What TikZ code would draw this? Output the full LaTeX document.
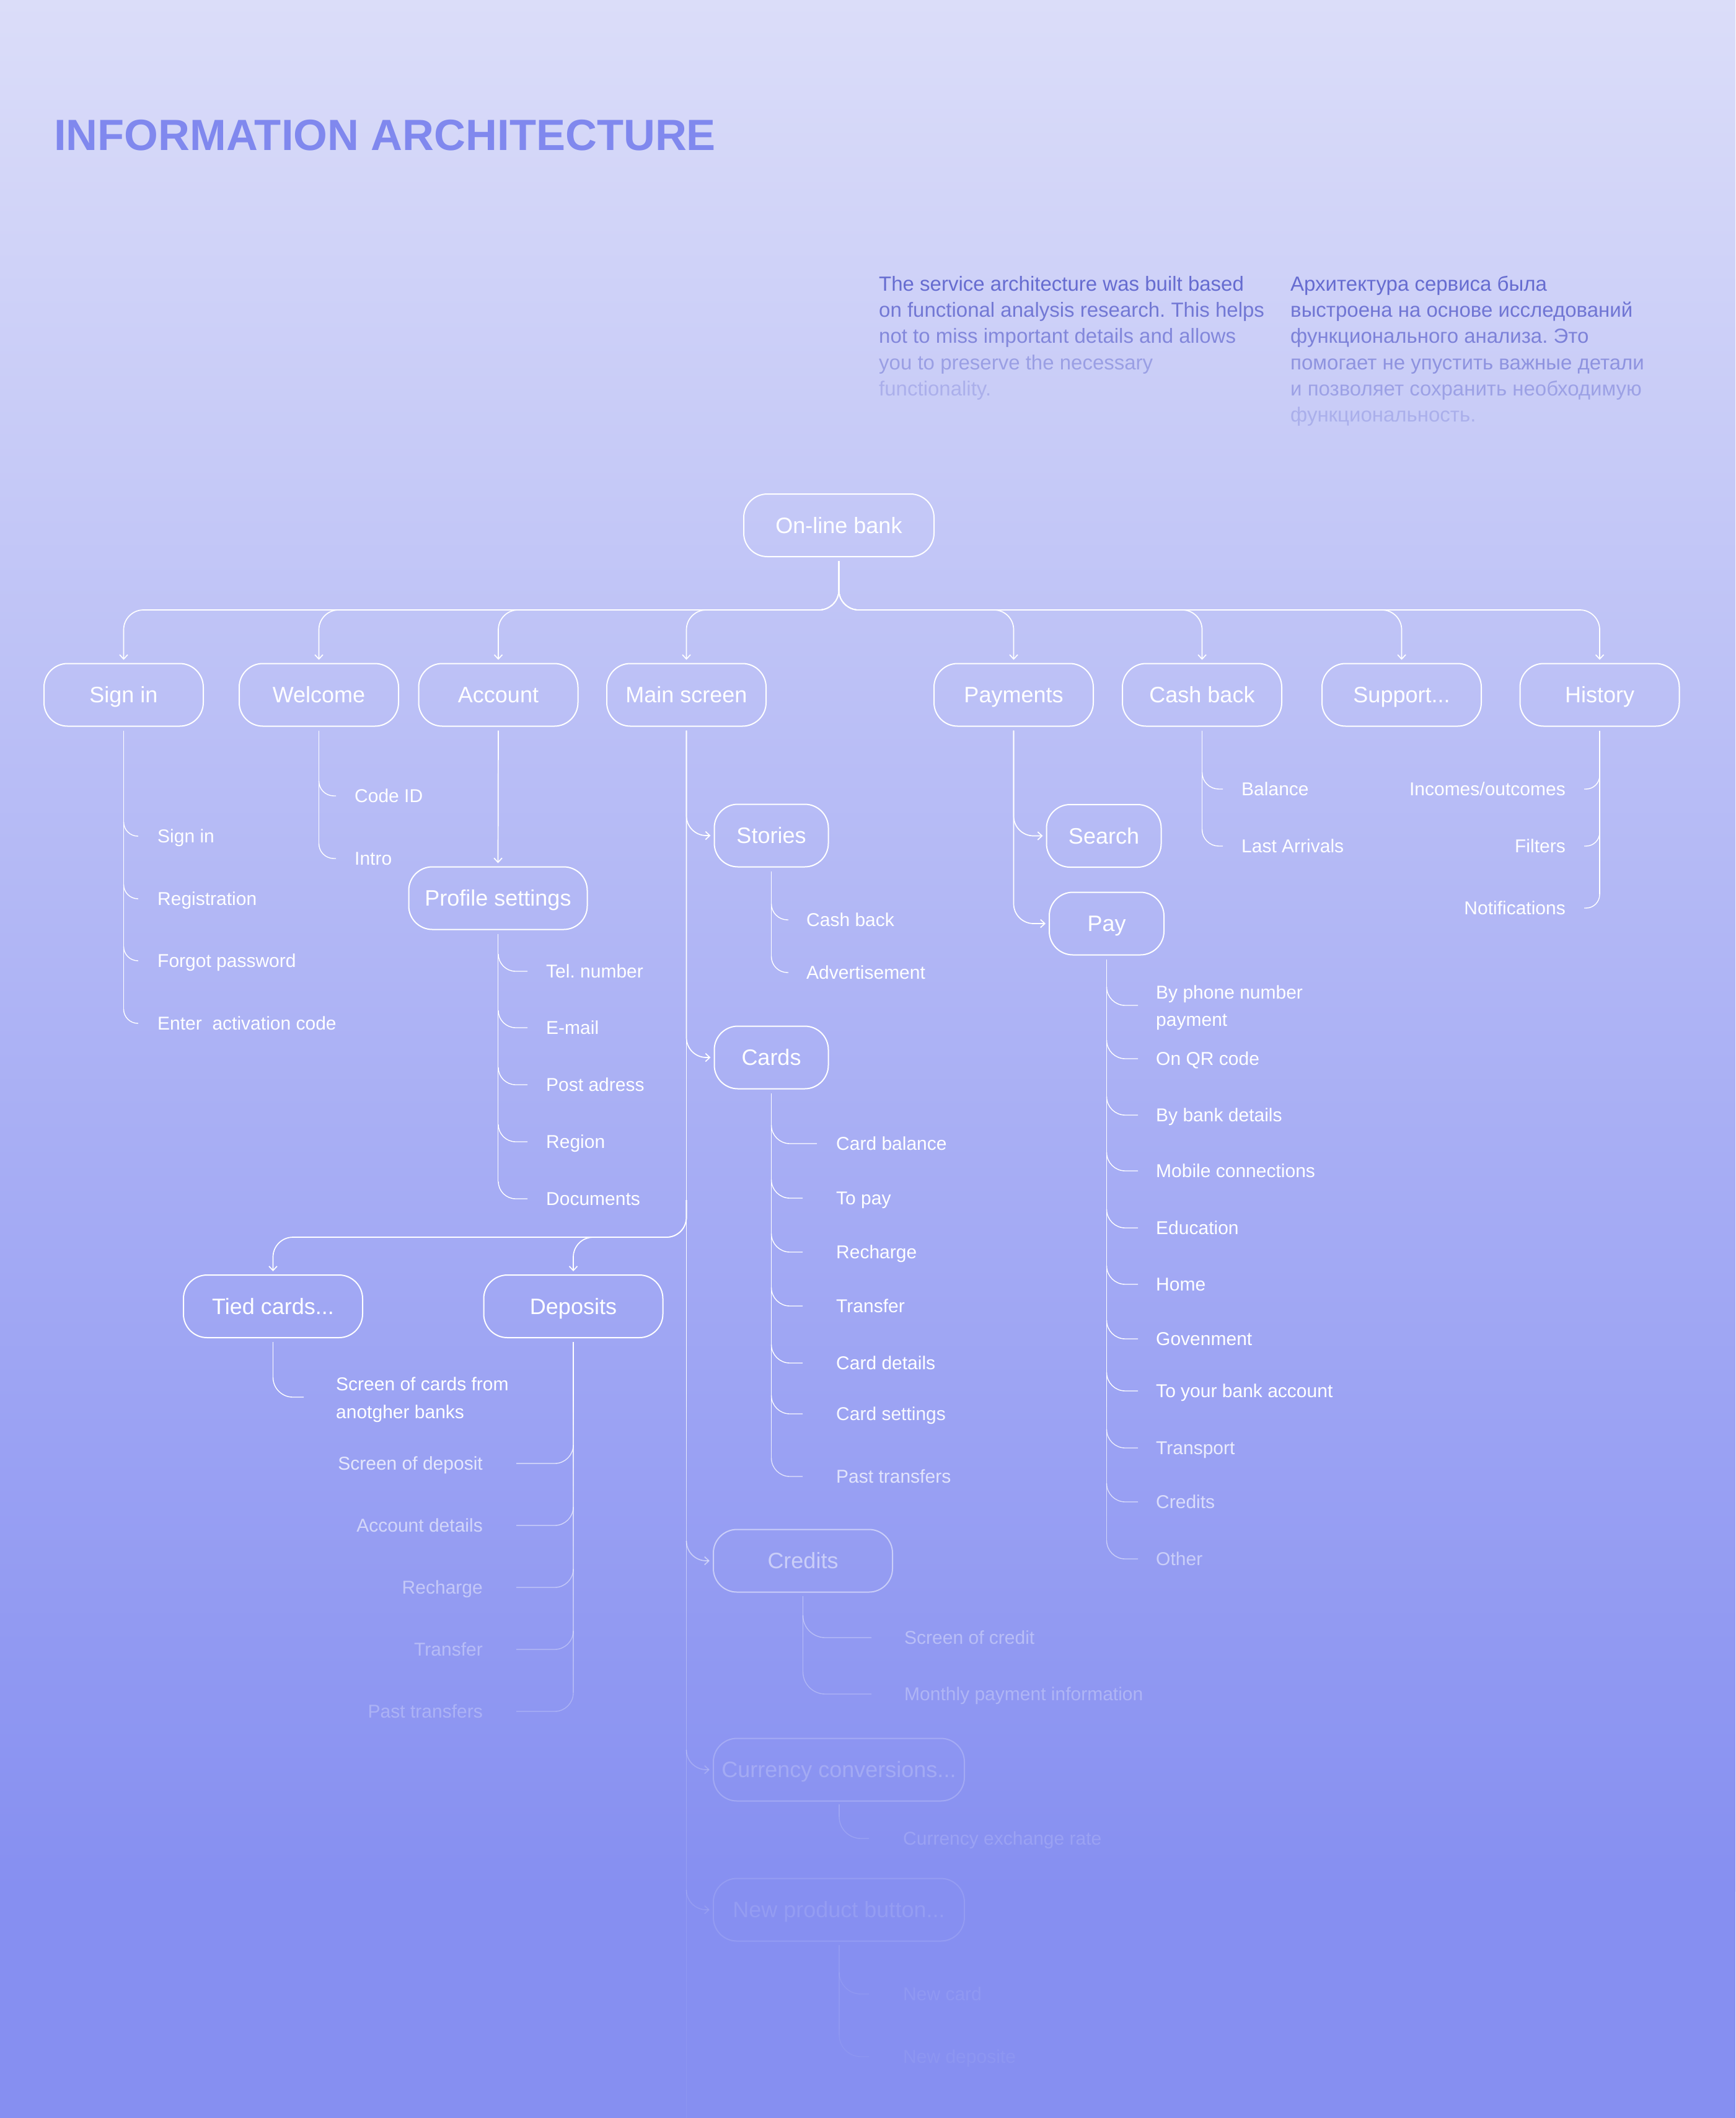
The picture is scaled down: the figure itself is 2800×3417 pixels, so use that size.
\documentclass[tikz,border=0pt]{standalone}
\usepackage{fontspec}
\setmainfont{Liberation Sans}
\frenchspacing
\usetikzlibrary{arrows.meta,calc}
\definecolor{bgtop}{HTML}{DBDDF9}
\definecolor{bgbot}{HTML}{868FF1}
\definecolor{titlecol}{HTML}{8088EE}
\definecolor{paracol}{HTML}{666CD0}
\newcommand\iaboxfont{\fontsize{36}{43}\selectfont}
\newcommand\ialeaffont{\fontsize{30}{44}\selectfont}
\newcommand\iaparafont{\fontsize{33}{42}\selectfont}
\newcommand\fadelen{390}
\tikzset{
 iabox/.style={draw=white, line width=2pt, rounded corners=38pt, minimum height=101pt, inner sep=0pt, text=white, font=\iaboxfont, text height=25.8pt, text depth=0pt},
 ialeaf/.style={inner sep=0pt, text=white, font=\ialeaffont},
 iapara/.style={inner sep=0pt, text=paracol, font=\iaparafont, anchor=base west},
 iaconn/.style={draw=white, line width=1.7pt, rounded corners=32pt},
 iaarr/.style={iaconn, -{Straight Barb[length=7pt,width=13pt]}},
 iatwig/.style={draw=white, line width=1.4pt},
}
% leaf with text to the right of the trunk
\newcommand\leafR[7]{%
 \pgfmathsetmacro\opa{min(1,exp(-(#3-2250)/\fadelen))}%
 \node[ialeaf, opacity=\opa, anchor=base west] (#1) at (#6,#3+10) {#7};%
 \draw[iatwig, opacity=\opa, rounded corners=#4pt] (#2,#3-#4) -- (#2,#3) -- ([shift={(-#5pt,10pt)}]#1.base west);%
}
% leaf with text to the left of the trunk
\newcommand\leafL[7]{%
 \pgfmathsetmacro\opa{min(1,exp(-(#3-2250)/\fadelen))}%
 \node[ialeaf, opacity=\opa, anchor=base east] (#1) at (#6,#3+10) {#7};%
 \draw[iatwig, opacity=\opa, rounded corners=#4pt] (#2,#3-#4) -- (#2,#3) -- ([shift={(#5pt,10pt)}]#1.base east);%
}
% vertical line that fades out towards the bottom
\newcommand\trunkF[3]{%
 \pgfmathsetmacro\tA{#2}%
 \pgfmathsetmacro\tB{#3}%
 \pgfmathtruncatemacro\nseg{max(1,ceil((\tB-\tA)/10))}%
 \foreach \i in {1,...,\nseg}{%
  \pgfmathsetmacro\ya{\tA+((\i-1)/\nseg)*(\tB-\tA)}%
  \pgfmathsetmacro\yb{\tA+(\i/\nseg)*(\tB-\tA)}%
  \pgfmathsetmacro\opb{min(1,exp(-(0.5*(\ya+\yb)-2250)/\fadelen))}%
  \draw[iatwig, opacity=\opb] (#1,\ya) -- (#1,\yb);
 }%
}
\begin{document}
\begin{tikzpicture}[x=1pt,y=-1pt]
\useasboundingbox (0,0) rectangle (2800,3417);
\shade[top color=bgtop, bottom color=bgbot] (0,0) rectangle (2800,3051);
\fill[bgbot] (0,3050) rectangle (2800,3417);

% title and description
\node[inner sep=0pt, anchor=base west, text=titlecol, font=\fontsize{70.5}{80}\selectfont\bfseries] (title) at (87,243) {INFORMATION ARCHITECTURE};
\node[iapara, opacity=1] (en1) at (1418,469) {The service architecture was built based};
\node[iapara, opacity=.88] (en2) at (1418,511) {on functional analysis research. This helps};
\node[iapara, opacity=.72] (en3) at (1418,553) {not to miss important details and allows};
\node[iapara, opacity=.48] (en4) at (1418,596) {you to preserve the necessary};
\node[iapara, opacity=.3] (en5) at (1418,638) {functionality.};
\node[iapara, opacity=1] (ru1) at (2082,469) {Архитектура сервиса была};
\node[iapara, opacity=.9] (ru2) at (2082,511) {выстроена на основе исследований};
\node[iapara, opacity=.78] (ru3) at (2082,553) {функционального анализа. Это};
\node[iapara, opacity=.6] (ru4) at (2082,596) {помогает не упустить важные детали};
\node[iapara, opacity=.45] (ru5) at (2082,638) {и позволяет сохранить необходимую};
\node[iapara, opacity=.3] (ru6) at (2082,680) {функциональность.};

% boxes
\node[iabox, minimum width=307pt] (ob) at (1353.5,847.5) {On-line bank};
\node[iabox, minimum width=257pt] (signin) at (199.5,1121) {Sign in};
\node[iabox, minimum width=257pt] (welcome) at (514.5,1121) {Welcome};
\node[iabox, minimum width=257pt] (account) at (804,1121) {Account};
\node[iabox, minimum width=257pt] (mainsc) at (1107.5,1121) {Main screen};
\node[iabox, minimum width=257pt] (payments) at (1635.5,1121) {Payments};
\node[iabox, minimum width=257pt] (cashback) at (1939.5,1121) {Cash back};
\node[iabox, minimum width=257pt] (support) at (2261.5,1121) {Support...};
\node[iabox, minimum width=257pt] (history) at (2581,1121) {History};
\node[iabox, minimum width=288pt] (profile) at (803.5,1449) {Profile settings};
\node[iabox, minimum width=184pt] (stories) at (1244.5,1348) {Stories};
\node[iabox, minimum width=184pt] (cards) at (1244.5,1706) {Cards};
\node[iabox, minimum width=185pt] (search) at (1781,1348.5) {Search};
\node[iabox, minimum width=185pt] (pay) at (1785.5,1490) {Pay};
\node[iabox, minimum width=289pt] (tied) at (440.5,2107.5) {Tied cards...};
\node[iabox, minimum width=289pt] (deposits) at (925,2107.5) {Deposits};
\pgfmathsetmacro\opa{min(1,exp(-(2518-2250)/\fadelen))}
\node[iabox, opacity=\opa, minimum width=289pt] (credits) at (1295.5,2518) {Credits};
\draw[iaarr, opacity=\opa] ($(mainsc.south |- credits.west)+(0,-32)$) -- (mainsc.south |- credits.west) -- ([xshift=-5pt]credits.west);
\pgfmathsetmacro\opa{min(1,exp(-(2855-2250)/\fadelen))}
\node[iabox, opacity=\opa, minimum width=405pt] (currency) at (1353.5,2855) {Currency conversions...};
\draw[iaarr, opacity=\opa] ($(mainsc.south |- currency.west)+(0,-32)$) -- (mainsc.south |- currency.west) -- ([xshift=-5pt]currency.west);
\pgfmathsetmacro\opa{min(1,exp(-(3081-2250)/\fadelen))}
\node[iabox, opacity=\opa, minimum width=405pt] (newprod) at (1353.5,3081) {New product button...};
\draw[iaarr, opacity=\opa] ($(mainsc.south |- newprod.west)+(0,-32)$) -- (mainsc.south |- newprod.west) -- ([xshift=-5pt]newprod.west);

% top bus
\coordinate (bus) at (0,984);
\foreach \c in {signin,welcome,account,mainsc,payments,cashback,support,history}{
 \draw[iaarr] ([yshift=-6pt]ob.south) -- (ob.south |- bus) -- (\c.north |- bus) -- ([yshift=5pt]\c.north);
}

% Sign in
\draw[iatwig] ([yshift=-6pt]signin.south) -- (signin.south |- 0,1628);
\leafR{si1}{199.5}{1349}{23}{31}{254}{Sign in}
\leafR{si2}{199.5}{1450}{23}{31}{254}{Registration}
\leafR{si3}{199.5}{1550}{23}{31}{254}{Forgot password}
\leafR{si4}{199.5}{1651}{23}{31}{254}{Enter\ \ activation code}

% Welcome
\draw[iatwig] ([yshift=-6pt]welcome.south) -- (welcome.south |- 0,1361);
\leafR{we1}{514.5}{1284}{24}{30}{572}{Code ID}
\leafR{we2}{514.5}{1385}{24}{30}{572}{Intro}

% Account -> Profile settings
\draw[iaarr] ([yshift=-6pt]account.south) -- ([yshift=5pt]profile.north);
\draw[iatwig] ([yshift=-6pt]profile.south) -- (profile.south |- 0,1906);
\leafR{pr1}{804}{1567}{28}{30}{881}{Tel. number}
\leafR{pr2}{804}{1658}{28}{30}{881}{E-mail}
\leafR{pr3}{804}{1750}{28}{30}{881}{Post adress}
\leafR{pr4}{804}{1842}{28}{30}{881}{Region}
\leafR{pr5}{804}{1934}{28}{30}{881}{Documents}

% Main screen trunk and branches
\draw[iatwig, line width=1.6pt] ([yshift=-6pt]mainsc.south) -- (mainsc.south |- 0,2250);
\trunkF{1107.5}{2250}{3417}
\draw[iaarr] ([yshift=-6pt]mainsc.south) -- (mainsc.south |- stories.west) -- ([xshift=-5pt]stories.west);
\draw[iaarr] ([yshift=-6pt]mainsc.south) -- (mainsc.south |- cards.west) -- ([xshift=-5pt]cards.west);
\draw[iaarr] ($(mainsc.south |- 0,1996)+(0,-60)$) -- (mainsc.south |- 0,1996) -- (tied.north |- 0,1996) -- ([yshift=5pt]tied.north);
\draw[iaarr] ($(mainsc.south |- 0,1996)+(0,-60)$) -- (mainsc.south |- 0,1996) -- (deposits.north |- 0,1996) -- ([yshift=5pt]deposits.north);

% Stories
\draw[iatwig] ([yshift=-6pt]stories.south) -- (stories.south |- 0,1543);
\leafR{st1}{1244.5}{1484}{26}{29}{1301}{Cash back}
\leafR{st2}{1244.5}{1569}{26}{29}{1301}{Advertisement}

% Cards
\draw[iatwig] ([yshift=-6pt]cards.south) -- (cards.south |- 0,2250);
\trunkF{1244.5}{2250}{2352}
\leafR{ca1}{1244.5}{1845}{30}{31}{1349}{Card balance}
\leafR{ca2}{1244.5}{1933}{30}{54}{1349}{To pay}
\leafR{ca3}{1244.5}{2020}{30}{54}{1349}{Recharge}
\leafR{ca4}{1244.5}{2107}{30}{54}{1349}{Transfer}
\leafR{ca5}{1244.5}{2199}{30}{54}{1349}{Card details}
\leafR{ca6}{1244.5}{2281}{30}{54}{1349}{Card settings}
\leafR{ca7}{1244.5}{2382}{30}{54}{1349}{Past transfers}

% Payments
\draw[iaarr] ([yshift=-6pt]payments.south) -- (payments.south |- search.west) -- ([xshift=-5pt]search.west);
\draw[iaarr] ([yshift=-6pt]payments.south) -- (payments.south |- pay.west) -- ([xshift=-5pt]pay.west);

% Pay
\draw[iatwig] ([yshift=-6pt]pay.south) -- (pay.south |- 0,2250);
\trunkF{1785.5}{2250}{2485}
\node[ialeaf, anchor=base west] (pa1) at (1865,1611) {By phone number};
\node[ialeaf, anchor=base west] (pa1b) at (1865,1655) {payment};
\draw[iatwig, rounded corners=30pt] (1785.5,1592) -- (1785.5,1622) -- ($(pa1.base west |- 0,1622)+(-29,0)$);
\leafR{pa2}{1785.5}{1708}{30}{29}{1865}{On QR code}
\leafR{pa3}{1785.5}{1799}{30}{29}{1865}{By bank details}
\leafR{pa4}{1785.5}{1889}{30}{29}{1865}{Mobile connections}
\leafR{pa5}{1785.5}{1981}{30}{29}{1865}{Education}
\leafR{pa6}{1785.5}{2072}{30}{29}{1865}{Home}
\leafR{pa7}{1785.5}{2160}{30}{29}{1865}{Govenment}
\leafR{pa8}{1785.5}{2244}{30}{29}{1865}{To your bank account}
\leafR{pa9}{1785.5}{2336}{30}{29}{1865}{Transport}
\leafR{pa10}{1785.5}{2423}{30}{29}{1865}{Credits}
\leafR{pa11}{1785.5}{2515}{30}{29}{1865}{Other}

% Cash back
\draw[iatwig] ([yshift=-6pt]cashback.south) -- (cashback.south |- 0,1338);
\leafR{cb1}{1939.5}{1273}{27}{30}{2003}{Balance}
\leafR{cb2}{1939.5}{1365}{27}{30}{2003}{Last Arrivals}

% History
\draw[iatwig] ([yshift=-6pt]history.south) -- (history.south |- 0,1443);
\leafL{hi1}{2581}{1273}{22}{30}{2526}{Incomes/outcomes}
\leafL{hi2}{2581}{1365}{22}{30}{2526}{Filters}
\leafL{hi3}{2581}{1465}{22}{30}{2526}{Notifications}

% Tied cards
\draw[iatwig] ([yshift=-6pt]tied.south) -- (tied.south |- 0,2222);
\node[ialeaf, anchor=base west] (ti1) at (542,2243) {Screen of cards from};
\node[ialeaf, anchor=base west] (ti1b) at (542,2288) {anotgher banks};
\draw[iatwig, rounded corners=32pt] (440.5,2222) -- (440.5,2254) -- ($(ti1.base west |- 0,2254)+(-52,0)$);

% Deposits
\draw[iatwig] ([yshift=-6pt]deposits.south) -- (deposits.south |- 0,2250);
\trunkF{925}{2250}{2731}
\leafL{de1}{925}{2361}{30}{54}{779}{Screen of deposit}
\leafL{de2}{925}{2461}{30}{54}{779}{Account details}
\leafL{de3}{925}{2561}{30}{54}{779}{Recharge}
\leafL{de4}{925}{2661}{30}{54}{779}{Transfer}
\leafL{de5}{925}{2761}{30}{54}{779}{Past transfers}

% Credits
\trunkF{1295.5}{2575}{2697}
\leafR{cr1}{1295.5}{2642}{36}{53}{1459}{Screen of credit}
\leafR{cr2}{1295.5}{2733}{36}{53}{1459}{Monthly payment information}

% Currency conversions
\trunkF{1354}{2911}{2931}
\leafR{cu1}{1354}{2966}{35}{55}{1457}{Currency exchange rate}

% New product button
\trunkF{1354}{3138}{3283}
\leafR{np1}{1354}{3217}{35}{55}{1457}{New card}
\leafR{np2}{1354}{3318}{35}{55}{1457}{New deposite}
\end{tikzpicture}
\end{document}
